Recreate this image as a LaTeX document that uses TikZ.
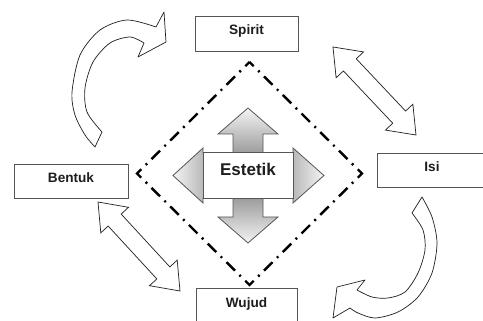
\documentclass[tikz,border=0pt]{standalone}
\usepackage{fontspec}
\setmainfont{Liberation Sans}
\usepackage{tikz}
\usetikzlibrary{shapes.arrows}
\definecolor{frameGray}{HTML}{555555}
\definecolor{inkGray}{HTML}{1E1E1E}
\definecolor{glowDark}{HTML}{9C9C9C}
\definecolor{glowLight}{HTML}{F4F4F4}
\tikzset{
  labelBox/.style = {draw = frameGray, line width = 0.8pt, fill = white, text = inkGray,
    font = \bfseries\fontsize{13.6}{14}\selectfont, text height = 10pt, text depth = 7pt, inner sep = 0pt},
  twoWayArrow/.style = {double arrow, draw = inkGray, line width = 0.7pt, fill = white,
    minimum height = 121pt, inner xsep = 0pt, inner ysep = 8.5pt, double arrow head extend = 10pt,
    double arrow tip angle = 75},
  curvedArrow/.style = {draw = inkGray, line width = 0.7pt, fill = white, line join = round},
  dashDotFrame/.style = {line width = 2.4pt, dash pattern = on 12pt off 6.2pt on 2pt off 6.2pt, dash phase = 6pt}
}

\begin{document}
\begin{tikzpicture}[x = 1pt, y = -1pt]
                        \useasboundingbox (0,0) rectangle (483,321);
                        \draw[dashDotFrame] (249.5,62) -- (362,173.5) -- (249.5,285) -- (137,173.5) -- cycle;
                        \shade[top color = glowLight, bottom color = glowDark]
                          (248,108) -- (278,134) -- (263,134) -- (263,153) -- (233,153) -- (233,134) -- (218,134) -- cycle;
                        \shade[top color = glowDark, bottom color = glowLight]
                          (233,198) -- (263,198) -- (263,217) -- (278,217) -- (248,243) -- (218,217) -- (233,217) -- cycle;
                        \shade[left color = glowLight, right color = glowDark!70!white] (203,148) -- (173,175.5) -- (203,203) -- cycle;
                        \shade[left color = glowDark!70!white, right color = glowLight] (293,148) -- (324,175.5) -- (293,203) -- cycle;
                        \draw[draw = frameGray, line width = 0.8pt]
                          (248,108) -- (278,134) -- (263,134) -- (263,153) -- (293,153) -- (293,148)
                          -- (324,175.5) -- (293,203) -- (293,198) -- (263,198) -- (263,217) -- (278,217)
                          -- (248,243) -- (218,217) -- (233,217) -- (233,198) -- (203,198) -- (203,203)
                          -- (173,175.5) -- (203,148) -- (203,153) -- (233,153) -- (233,134) -- (218,134) -- cycle;
                        \node[labelBox, minimum width = 90pt, minimum height = 46pt, text height = 12.5pt, text depth = 12.5pt,
                          font = \bfseries\fontsize{17}{17}\selectfont] (estetik) at (248,175.5) {Estetik};
                        \node[labelBox, minimum width = 103pt, minimum height = 35pt] (spirit) at (246.5,33.5) {Spirit};
                        \node[labelBox, minimum width = 110pt, minimum height = 34pt] (isi) at (432,170) {Isi};
                        \node[labelBox, minimum width = 114pt, minimum height = 34pt] (bentuk) at (71,181) {Bentuk};
                        \node[labelBox, minimum width = 101pt, minimum height = 35pt] (wujud) at (246.5,305.5) {Wujud};
                        \coordinate (spiritEnd) at (333,47);
                        \coordinate (isiEnd) at (416,135);
                        \coordinate (bentukEnd) at (98,202);
                        \coordinate (wujudEnd) at (180,291);
                        \path (spiritEnd) -- node[twoWayArrow, sloped] (spiritIsi) {} (isiEnd);
                        \path (bentukEnd) -- node[twoWayArrow, sloped] (bentukWujud) {} (wujudEnd);
                        \draw[curvedArrow] plot[smooth] coordinates {(95,147) (85,135) (75,115) (72,92) (80,55) (100,30) (127,20) (156,27)}
                          -- (164,12) -- (166,42) -- (138,57)
                          -- plot[smooth] coordinates {(144,43) (130,37) (110,43) (93,62) (85,88) (87,112) (102,132)} -- cycle;
                        \draw[curvedArrow] plot[smooth] coordinates {(422,197) (432,217) (437,243) (432,273) (418,297) (398,312) (375,318) (358,313) (350,308)}
                          -- (333,318) -- (337,287) -- (365,280)
                          -- plot[smooth] coordinates {(357,290) (372,297) (388,298) (405,292) (418,273) (425,250) (423,230) (412,213)} -- cycle;
                      \end{tikzpicture}
\end{document}
